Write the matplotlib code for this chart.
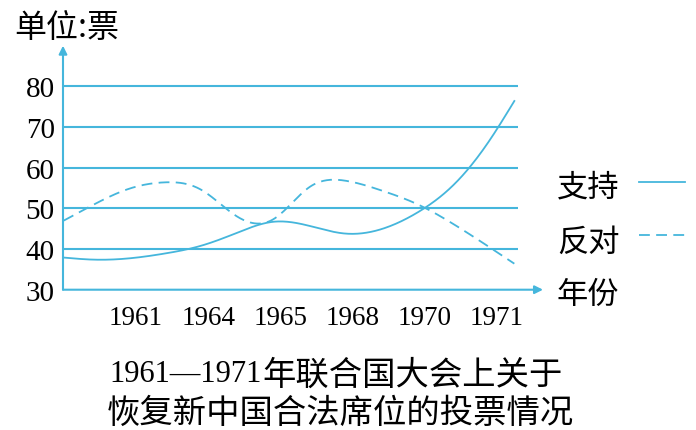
import numpy as np
import matplotlib
matplotlib.use("Agg")
import matplotlib.pyplot as plt
from matplotlib.lines import Line2D

# ---- data ----
years = ["1961", "1964", "1965", "1968", "1970", "1971"]
# curves (category units: 0 = 1961 ... 5 = 1971)
sample_pos = [-1.0, -0.6, -0.1, 0.4, 0.9, 1.4, 1.9, 2.4, 2.9, 3.4, 3.9, 4.4, 4.9, 5.24]
support = [37.9, 37.4, 37.7, 38.9, 40.8, 44.0, 46.7, 45.7, 43.8, 44.9, 49.0, 55.8, 66.8, 76.4]
oppose = [47.0, 50.8, 54.8, 56.4, 54.6, 48.0, 47.3, 55.2, 56.8, 54.4, 51.0, 46.1, 40.4, 36.4]
y_ticks = [30, 40, 50, 60, 70, 80]

BLUE = "#45b6dc"
CJK = ["Noto Sans CJK SC", "DejaVu Sans"]
SERIF = ["Liberation Serif", "Noto Sans CJK SC"]


def natural_spline(x, y, n=400):
    x = np.asarray(x, float)
    y = np.asarray(y, float)
    m = len(x)
    h = np.diff(x)
    A = np.zeros((m, m))
    b = np.zeros(m)
    A[0, 0] = A[-1, -1] = 1.0
    for i in range(1, m - 1):
        A[i, i - 1] = h[i - 1]
        A[i, i] = 2 * (h[i - 1] + h[i])
        A[i, i + 1] = h[i]
        b[i] = 6 * ((y[i + 1] - y[i]) / h[i] - (y[i] - y[i - 1]) / h[i - 1])
    M = np.linalg.solve(A, b)
    xs = np.linspace(x[0], x[-1], n)
    idx = np.clip(np.searchsorted(x, xs) - 1, 0, m - 2)
    x0, x1 = x[idx], x[idx + 1]
    hh = x1 - x0
    t0 = x1 - xs
    t1 = xs - x0
    ys = (M[idx] * t0 ** 3 / (6 * hh) + M[idx + 1] * t1 ** 3 / (6 * hh)
          + (y[idx] / hh - M[idx] * hh / 6) * t0
          + (y[idx + 1] / hh - M[idx + 1] * hh / 6) * t1)
    return xs, ys


W, H = 696, 431
fig = plt.figure(figsize=(W / 100, H / 100), dpi=100)
fig.patch.set_facecolor("white")

left, right, bottom, top = 63, 543, 290.7, 46.7
ax = fig.add_axes([left / W, 1 - bottom / H, (right - left) / W, (bottom - top) / H])
xmin, xmax = -1.011, 5.637
ymin, ymax = 30, 90
ax.set_xlim(xmin, xmax)
ax.set_ylim(ymin, ymax)
for s in ax.spines.values():
    s.set_visible(False)
ax.patch.set_alpha(0)

grid_end = 5.291
ax.hlines(y_ticks[1:], xmin, grid_end, color=BLUE, lw=1.5, zorder=1)

# axes with arrows
ax.annotate("", xy=(xmax, ymin), xytext=(xmin, ymin),
            arrowprops=dict(arrowstyle="-|>", color=BLUE, lw=1.5,
                            mutation_scale=12, shrinkA=0, shrinkB=0),
            annotation_clip=False)
ax.annotate("", xy=(xmin, ymax), xytext=(xmin, ymin),
            arrowprops=dict(arrowstyle="-|>", color=BLUE, lw=1.5,
                            mutation_scale=12, shrinkA=0, shrinkB=0),
            annotation_clip=False)

xs, ys = natural_spline(sample_pos, support)
ax.plot(xs, ys, color=BLUE, lw=1.3, zorder=3)
xs, ys = natural_spline(sample_pos, oppose)
ax.plot(xs, ys, color=BLUE, lw=1.3, dashes=(6, 3.5), zorder=3)

ax.set_xticks(range(len(years)))
ax.set_xticklabels(years, family=SERIF, fontsize=19.5)
ax.set_yticks(y_ticks)
ax.set_yticklabels([str(v) for v in y_ticks], family=SERIF, fontsize=21)
ax.tick_params(axis="x", length=0, pad=11)
ax.tick_params(axis="y", length=0, pad=6)


def fx(px):
    return px / W


def fy(py):
    return 1 - py / H


fig.text(fx(14), fy(28), "单位:票", family=CJK, fontsize=23, va="center", ha="left",
         fontweight="light")

# legend
fig.text(fx(557), fy(187), "支持", family=CJK, fontsize=22.5, va="center", ha="left",
         fontweight="light")
fig.text(fx(557), fy(243), "反对", family=CJK, fontsize=22.5, va="center", ha="left",
         fontweight="light")
fig.text(fx(557), fy(295), "年份", family=CJK, fontsize=22.5, va="center", ha="left",
         fontweight="light")
fig.add_artist(Line2D([fx(639), fx(685)], [fy(183), fy(183)], color=BLUE, lw=1.3))
fig.add_artist(Line2D([fx(639), fx(685)], [fy(236), fy(236)], color=BLUE, lw=1.3,
                      dashes=(6, 3.5)))

# caption
fig.text(fx(109), fy(375), "1961—1971", family=SERIF, fontsize=22, va="center", ha="left")
fig.text(fx(262), fy(375), "年联合国大会上关于", family=CJK, fontsize=24,
         va="center", ha="left", fontweight="light")
fig.text(fx(107), fy(413), "恢复新中国合法席位的投票情况", family=CJK, fontsize=24,
         va="center", ha="left", fontweight="light")

fig.savefig("out.png", dpi=100)
